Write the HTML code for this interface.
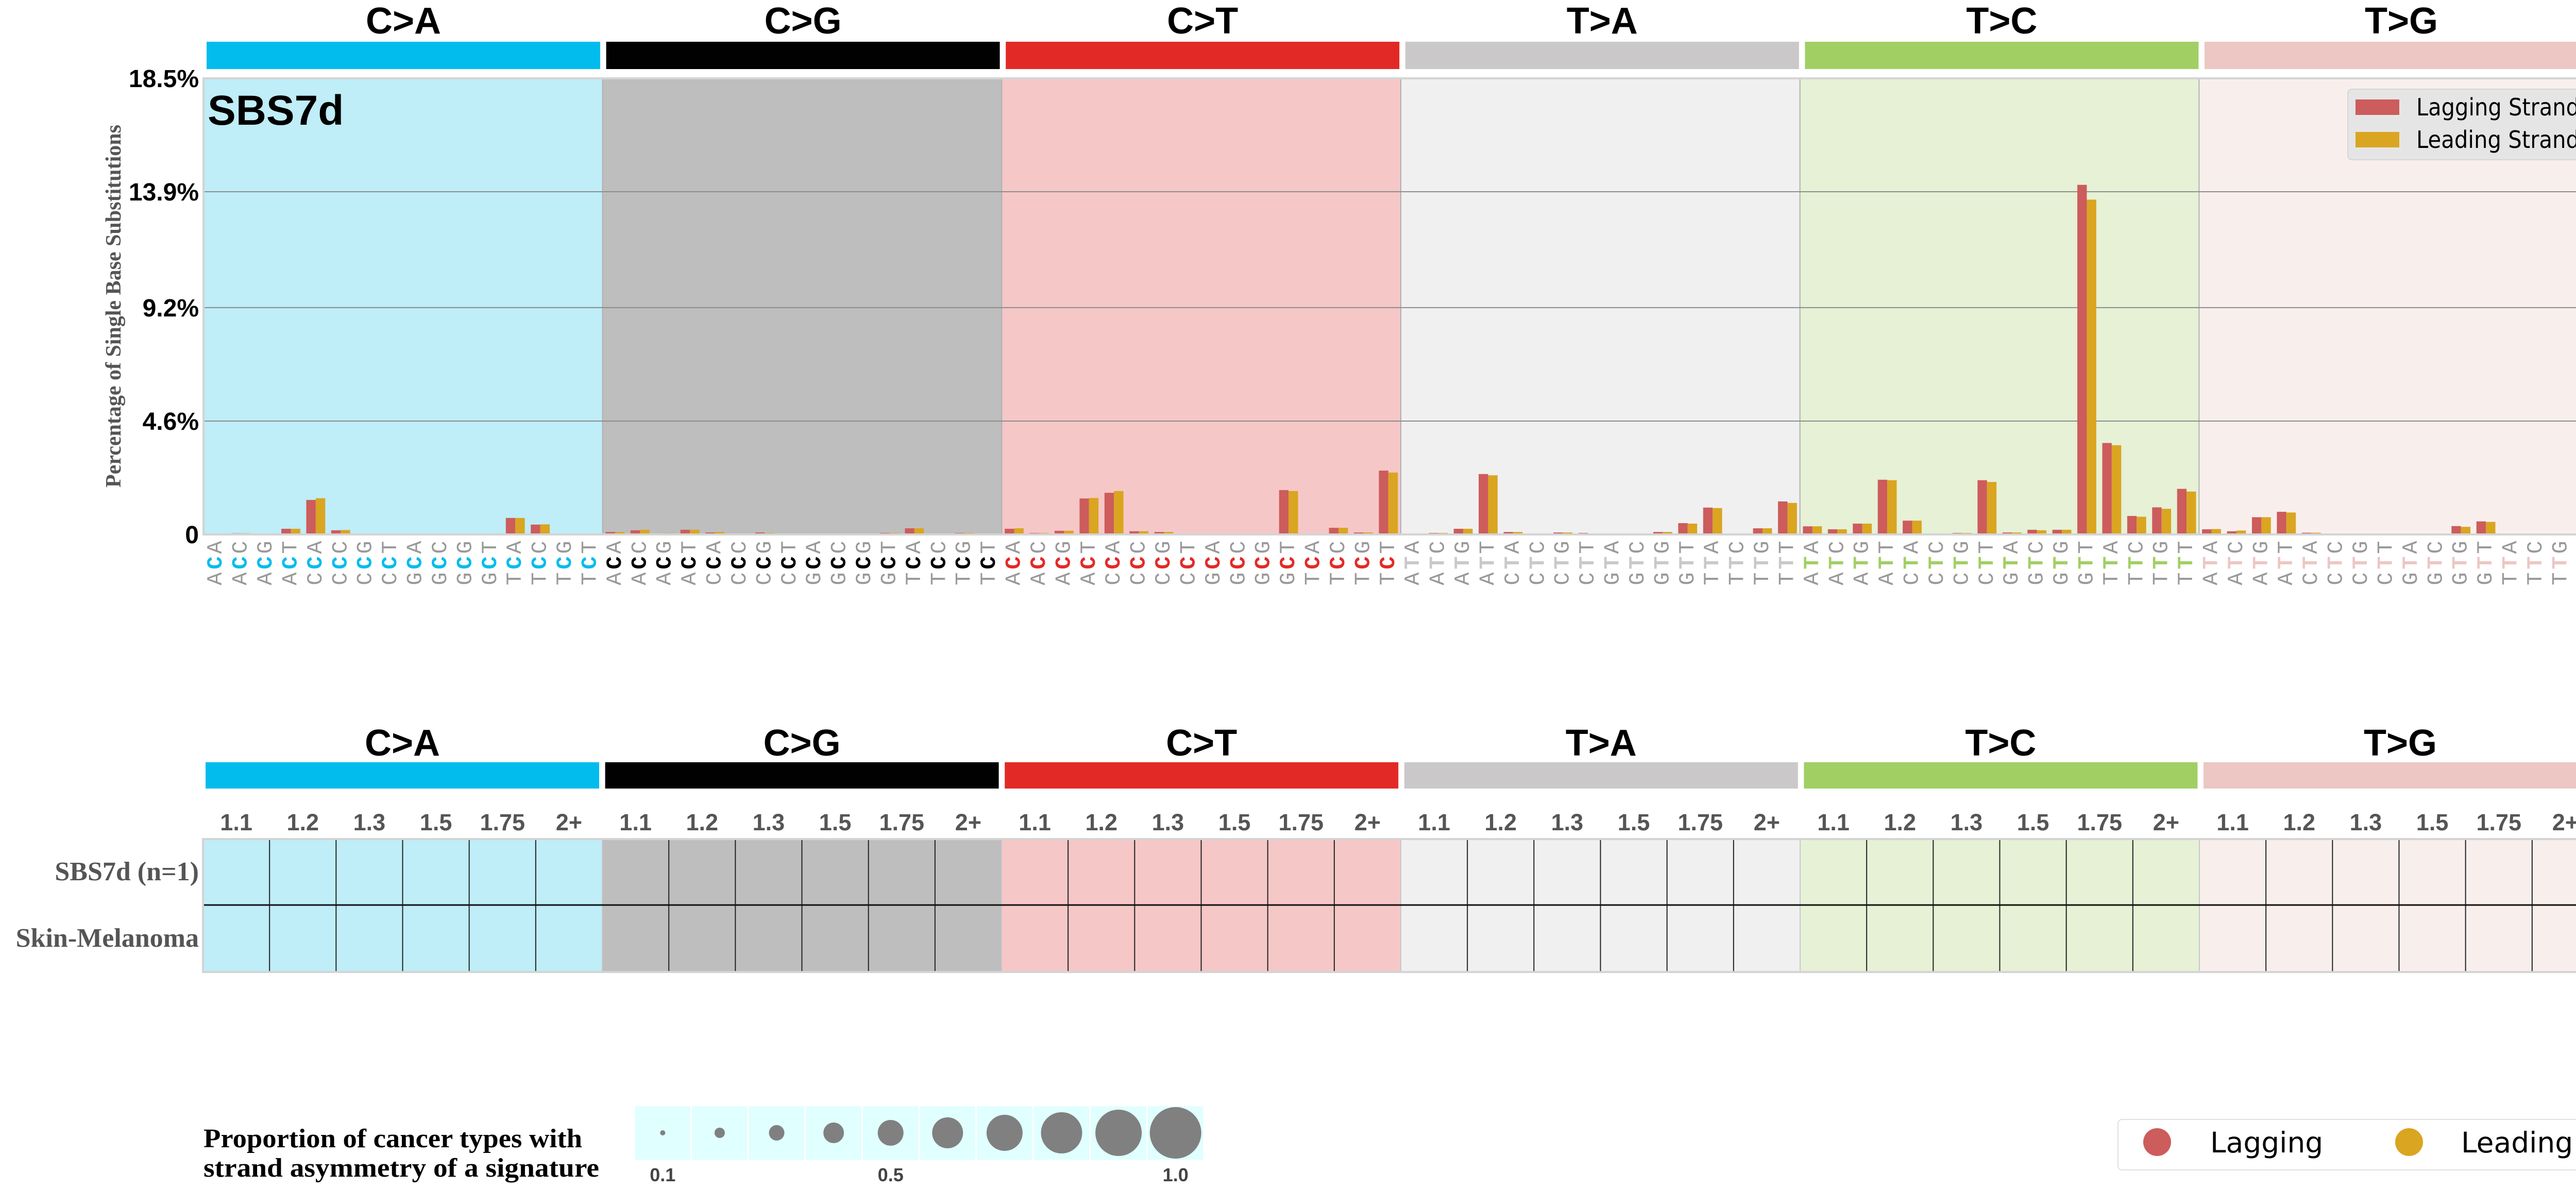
<!DOCTYPE html>
<html><head><meta charset="utf-8"><style>
html,body{margin:0;padding:0;background:#fff;overflow:hidden;width:5056px;height:2307px;}
svg{display:block;position:absolute;left:0;top:0;}
</style></head><body>
<svg id="chart" xmlns="http://www.w3.org/2000/svg" width="5056" height="2307" viewBox="0 0 5056 2307">
<g id="topg"></g>
<g id="bottomg"></g>
</svg>
<script>
const categories = ["C>A","C>G","C>T","T>A","T>C","T>G"];
const lagging = [
0,0.05,0,0.23,1.40,0.17,0,0,0,0,0,0,0.67,0.40,0,0.02,
0.10,0.17,0.04,0.19,0.08,0,0.08,0,0.02,0,0.02,0.06,0.25,0.02,0.06,0,
0.23,0.06,0.15,1.46,1.69,0.13,0.10,0,0.02,0,0.02,1.80,0,0.27,0.08,2.59,
0,0.06,0.23,2.45,0.10,0,0.08,0.06,0,0,0.10,0.46,1.09,0.04,0.25,1.34,
0.33,0.21,0.44,2.22,0.56,0,0.06,2.20,0.08,0.19,0.19,14.18,3.71,0.75,1.10,1.85,
0.21,0.13,0.70,0.92,0.07,0,0,0.04,0,0,0.34,0.53,0,0,0,0.03];
const leading = [
0,0.05,0,0.23,1.47,0.18,0,0,0,0,0,0,0.67,0.41,0,0.02,
0.10,0.19,0.05,0.19,0.10,0,0.06,0,0.02,0,0.02,0.06,0.25,0.02,0.06,0,
0.25,0.06,0.15,1.48,1.76,0.13,0.10,0,0.02,0,0.02,1.76,0,0.27,0.08,2.51,
0,0.06,0.23,2.40,0.10,0,0.08,0.04,0,0,0.10,0.44,1.07,0.04,0.25,1.28,
0.33,0.21,0.44,2.20,0.56,0,0.06,2.13,0.08,0.17,0.19,13.58,3.62,0.72,1.04,1.74,
0.22,0.16,0.70,0.89,0.07,0,0,0.04,0,0,0.31,0.51,0,0,0,0.03];
const yTicks = [0,4.6,9.2,13.9,18.5];
const yTickLabels = ["0","4.6%","9.2%","13.9%","18.5%"];
const ratioLabels = ["1.1","1.2","1.3","1.5","1.75","2+"];
const rowLabels = ["SBS7d (n=1)","Skin-Melanoma"];
const propValues = [0.1,0.2,0.3,0.4,0.5,0.6,0.7,0.8,0.9,1.0];

const NS="http://www.w3.org/2000/svg";
const catColors=["#03bcee","#010101","#e32926","#cac8c9","#a1cf64","#ecc7c4"];
const bgColors=["#bfedf8","#bebebe","#f6c7c7","#f0f0f0","#e6f1d6","#f8efed"];
const midColors=["#03bcee","#000000","#e32926","#cac8c9","#a1cf64","#ecc7c4"];
const X0=395,X1=5043,Y0=1037,YT=152,YMAX=18.5;
const cw=(X1-X0)/96;
const xs=i=>X0+i*cw;
const ys=v=>Y0-(v/YMAX)*(Y0-YT);
function mk(tag,attrs,parent,txt){const e=document.createElementNS(NS,tag);for(const k in attrs)e.setAttribute(k,attrs[k]);if(txt!==undefined)e.textContent=txt;parent.appendChild(e);return e;}
const topG=document.getElementById('topg'), botG=document.getElementById('bottomg');
const bases=["A","C","G","T"];
const barPitch=775.6, barW=764;

categories.forEach((c,k)=>{
  const bx=401+k*barPitch;
  let t=mk('text',{x:bx+barW/2,y:65,'text-anchor':'middle','font-family':'Liberation Sans, sans-serif','font-weight':'bold','font-size':72,fill:'#000'},topG,c);
  
  
  let r=mk('rect',{x:bx,y:81,width:barW,height:53,fill:catColors[k]},topG);
  
  
  let bg=mk('rect',{x:xs(k*16),y:YT,width:16*cw,height:Y0-YT,fill:bgColors[k]},topG);
  
  
});
for(let k=1;k<6;k++){let l=mk('line',{x1:xs(k*16),x2:xs(k*16),y1:YT,y2:Y0,stroke:'#b0b0b0','stroke-width':2},topG);
  
  }
yTicks.forEach((v,i)=>{
  if(i>0&&i<yTicks.length-1){let g=mk('line',{x1:X0,x2:X1,y1:ys(v),y2:ys(v),stroke:'#8c8c8c','stroke-width':2},topG);
    
    }
  let t=mk('text',{x:386,y:ys(v)+17,'text-anchor':'end','font-family':'Liberation Sans, sans-serif','font-weight':'bold','font-size':48},topG,yTickLabels[i]);
  
  
});
for(let i=0;i<96;i++){
  const bw=cw*0.38, off=cw*0.12;
  let a=mk('rect',{x:xs(i)+off,y:ys(lagging[i]),width:bw,height:Y0-ys(lagging[i]),fill:'#cd5c5c'},topG);
  
  
  let b=mk('rect',{x:xs(i)+off+bw,y:ys(leading[i]),width:bw,height:Y0-ys(leading[i]),fill:'#daa520'},topG);
  
  
}
let fr=mk('rect',{x:X0,y:YT,width:X1-X0,height:Y0-YT,fill:'none',stroke:'#d4d4d4','stroke-width':4},topG);


for(let i=0;i<96;i++){
  const k=Math.floor(i/16), j=i%16;
  const first=bases[Math.floor(j/4)], third=bases[j%4], mid=k<3?"C":"T";
  const cx=xs(i)+cw/2;
  const rows=[[third,1062,'#999','normal'],[mid,1092,midColors[k],'bold'],[first,1123,'#999','normal']];
  rows.forEach(r=>{
    let t=mk('text',{x:cx,y:r[1],'text-anchor':'middle','dominant-baseline':'central','font-family':'Liberation Mono, monospace','font-size':42,'font-weight':r[3],fill:r[2],transform:`rotate(-90 ${cx} ${r[1]})`},topG,r[0]);
    
    
  });
}
let yt=mk('text',{x:0,y:0,'text-anchor':'middle','font-family':'Liberation Serif, serif','font-weight':'bold','font-size':42,fill:'#555',transform:'translate(234 594) rotate(-90)'},topG,'Percentage of Single Base Substitutions');


let sn=mk('text',{x:403,y:242,'font-family':'Liberation Sans, sans-serif','font-weight':'bold','font-size':82},topG,'SBS7d');


let lg=mk('g',{},topG);


mk('rect',{x:4557,y:173,width:466,height:137,rx:8,fill:'#e5e5e5',stroke:'#d6d6d6','stroke-width':2},lg);
mk('rect',{x:4572,y:193,width:85,height:30,fill:'#cd5c5c'},lg);
mk('rect',{x:4572,y:256,width:85,height:30,fill:'#daa520'},lg);
mk('text',{x:4690,y:224,'font-family':'DejaVu Sans, sans-serif','font-size':46,textLength:317,lengthAdjust:'spacingAndGlyphs'},lg,'Lagging Strand');
mk('text',{x:4690,y:287,'font-family':'DejaVu Sans, sans-serif','font-size':46,textLength:317,lengthAdjust:'spacingAndGlyphs'},lg,'Leading Strand');

const TX0=394,TX1=5044,TY0=1628,TY1=1886,TM=1756;
const tcw=(TX1-TX0)/36;
categories.forEach((c,k)=>{
  const bx=399+k*barPitch;
  let t=mk('text',{x:bx+barW/2,y:1466,'text-anchor':'middle','font-family':'Liberation Sans, sans-serif','font-weight':'bold','font-size':72},botG,c);
  
  
  let r=mk('rect',{x:bx,y:1479,width:barW,height:51,fill:catColors[k]},botG);
  
  
  let bg=mk('rect',{x:TX0+k*6*tcw,y:TY0,width:6*tcw,height:TY1-TY0,fill:bgColors[k]},botG);
  
  
  ratioLabels.forEach((lab,j)=>{
    let n=mk('text',{x:TX0+(k*6+j+0.5)*tcw,y:1611,'text-anchor':'middle','font-family':'Liberation Sans, sans-serif','font-weight':'bold','font-size':45,fill:'#555'},botG,lab);
    
    
  });
});
for(let j=1;j<36;j++){let l=mk('line',{x1:TX0+j*tcw,x2:TX0+j*tcw,y1:TY0,y2:TY1,stroke:(j%6===0)?'#c8c8c8':'#222','stroke-width':2},botG);
  
  }
let ml=mk('line',{x1:TX0,x2:TX1,y1:TM,y2:TM,stroke:'#111','stroke-width':3},botG);


let tf=mk('rect',{x:TX0,y:TY0,width:TX1-TX0,height:TY1-TY0,fill:'none',stroke:'#d4d4d4','stroke-width':4},botG);


rowLabels.forEach((lab,i)=>{
  let t=mk('text',{x:386,y:(i===0?1691:1820)+17,'text-anchor':'end','font-family':'Liberation Serif, serif','font-weight':'bold','font-size':52,fill:'#555'},botG,lab);
  
  
});

let p1=mk('text',{x:395,y:2226,'font-family':'Liberation Serif, serif','font-weight':'bold','font-size':52,textLength:735,lengthAdjust:'spacingAndGlyphs'},botG,'Proportion of cancer types with');


let p2=mk('text',{x:395,y:2283,'font-family':'Liberation Serif, serif','font-weight':'bold','font-size':52,textLength:768,lengthAdjust:'spacingAndGlyphs'},botG,'strand asymmetry of a signature');


const PX0=1231,PCW=110.6;
propValues.forEach((v,i)=>{
  let c=mk('rect',{x:PX0+i*PCW,y:2145,width:PCW,height:107,fill:'#e0ffff',stroke:'#fff','stroke-width':3},botG);
  
  
  let d=mk('circle',{cx:PX0+(i+0.5)*PCW,cy:2198,r:v*50,fill:'#808080'},botG);
  
  
});
[[0,"0.1"],[4,"0.5"],[9,"1.0"]].forEach(p=>{
  let t=mk('text',{x:PX0+(p[0]+0.5)*PCW,y:2292,'text-anchor':'middle','font-family':'Liberation Sans, sans-serif','font-weight':'bold','font-size':36,fill:'#444'},botG,p[1]);
  
  
});
let sl=mk('g',{},botG);


mk('rect',{x:4111,y:2172,width:904,height:98,rx:8,fill:'#fff',stroke:'#e0e0e0','stroke-width':2},sl);
mk('circle',{cx:4187,cy:2216,r:27,fill:'#cd5c5c'},sl);
mk('text',{x:4290,y:2236,'font-family':'DejaVu Sans, sans-serif','font-size':55},sl,'Lagging');
mk('circle',{cx:4676,cy:2216,r:27,fill:'#daa520'},sl);
mk('text',{x:4777,y:2236,'font-family':'DejaVu Sans, sans-serif','font-size':55},sl,'Leading');
</script>
</body></html>
